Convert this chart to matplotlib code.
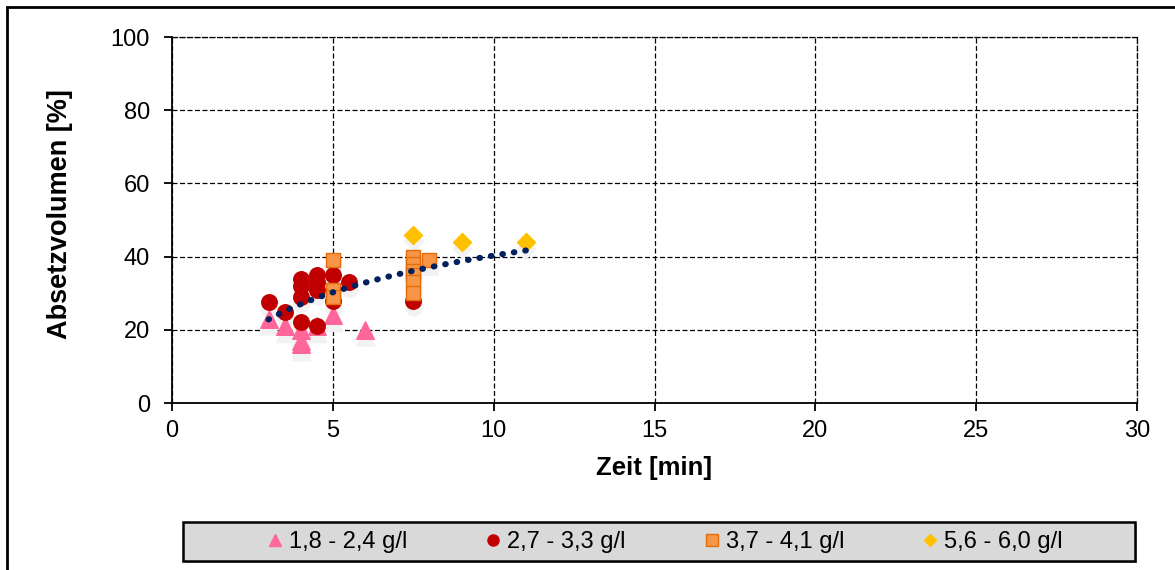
import numpy as np
import matplotlib
matplotlib.use("Agg")
import matplotlib.pyplot as plt
import matplotlib.transforms as mtransforms
from matplotlib.patches import Rectangle

plt.rcParams['font.family'] = ['Liberation Sans', 'DejaVu Sans']

# Messdaten: Zeit [min] / Absetzvolumen [%]
zeit_18 = [3, 3.5, 4, 4, 4, 4.5, 5, 6]
vol_18 = [23, 21, 20, 17, 16, 21, 24, 20]

zeit_27 = [3, 3.5, 4, 4, 4, 4, 4.5, 4.5, 4.5, 4.5, 5, 5, 5.5, 7.5]
vol_27 = [27.5, 25, 34, 32, 29, 22, 35, 33, 31, 21, 35, 28, 33, 28]

zeit_37 = [5, 5, 5, 7.5, 7.5, 7.5, 7.5, 7.5, 7.5, 8]
vol_37 = [39, 31, 29, 40, 38, 36, 35, 33, 30, 39]

zeit_56 = [7.5, 9, 11]
vol_56 = [46, 44, 44]

labels = ['1,8 - 2,4 g/l', '2,7 - 3,3 g/l', '3,7 - 4,1 g/l', '5,6 - 6,0 g/l']

# logarithmische Trendlinie (Koeffizienten)
trend_a = 14.5
trend_b = 6.9

fig = plt.figure(figsize=(11.75, 5.70), dpi=100)
ax = fig.add_axes([172 / 1175, 167 / 570, 965 / 1175, 366 / 570])

# Rahmen um das Diagramm
fig.patches.append(Rectangle((7 / 1175, -0.05), 1.2, 1 - 7 / 570 + 0.05,
                             transform=fig.transFigure, fill=False,
                             edgecolor='black', linewidth=2))

series = [
    (zeit_18, vol_18, '^', '#FF6699', '#FF6699', 160),
    (zeit_27, vol_27, 'o', '#C00000', '#C00000', 125),
    (zeit_37, vol_37, 's', '#F79646', '#E46C0A', 110),
    (zeit_56, vol_56, 'D', '#FFC000', '#FFC000', 85),
]

# leichter Schatten unter den Punkten
shadow = mtransforms.offset_copy(ax.transData, fig=fig, x=1, y=-7, units='dots')
for x, y, m, fc, ec, s in series:
    ax.scatter(x, y, marker=m, s=s * 1.3, color='#f2f2f2', edgecolors='none',
               transform=shadow, zorder=2)

for (x, y, m, fc, ec, s), lab in zip(series, labels):
    ax.scatter(x, y, marker=m, s=s, facecolor=fc, edgecolors=ec,
               linewidths=1, label=lab, zorder=3)

all_x = np.array(zeit_18 + zeit_27 + zeit_37 + zeit_56, dtype=float)
xt = np.linspace(all_x.min(), all_x.max(), 200)
ax.plot(xt, trend_a * np.log(xt) + trend_b, color='#002060',
        linestyle=(0, (0.1, 1.8)), linewidth=4.4, dash_capstyle='round', zorder=4)

ax.set_xlim(0, 30)
ax.set_ylim(0, 100)
ax.set_xticks(range(0, 31, 5))
ax.set_yticks(range(0, 101, 20))
ax.grid(True, color='black', linestyle=(0, (4, 2)), linewidth=0.9)
ax.set_axisbelow(True)
for sp in ['top', 'right']:
    ax.spines[sp].set_linestyle((0, (4, 2)))
    ax.spines[sp].set_linewidth(0.9)
for sp in ['left', 'bottom']:
    ax.spines[sp].set_linewidth(1.3)
ax.tick_params(direction='out', length=6, width=1.3, labelsize=17)
ax.tick_params(axis='x', pad=6)
ax.tick_params(axis='y', pad=10)

ax.set_xlabel('Zeit [min]', fontsize=18.5, fontweight='bold', labelpad=10)
ax.set_ylabel('Absetzvolumen [%]', fontsize=19.5, fontweight='bold', labelpad=27)
ax.yaxis.label.set_y(0.515)

# Legende unten mit grauem Kasten
box_shadow = Rectangle((185 / 1175, 7 / 570), 952 / 1175, 39 / 570,
                       transform=fig.transFigure, facecolor='#a6a6a6',
                       edgecolor='none', zorder=0)
box = Rectangle((183 / 1175, 9 / 570), 952 / 1175, 39 / 570,
                transform=fig.transFigure, facecolor='#d9d9d9',
                edgecolor='black', linewidth=1.8, zorder=1)
fig.patches.extend([box_shadow, box])

leg_handles = [
    plt.Line2D([], [], marker='^', color='#FF6699', linestyle='none', markersize=9),
    plt.Line2D([], [], marker='o', markerfacecolor='#C00000', markeredgecolor='#C00000',
               linestyle='none', markersize=8),
    plt.Line2D([], [], marker='s', markerfacecolor='#F79646', markeredgecolor='#E46C0A',
               linestyle='none', markersize=9),
    plt.Line2D([], [], marker='D', color='#FFC000', linestyle='none', markersize=6),
]
leg = fig.legend(leg_handles, labels, ncol=4, loc='center',
                 bbox_to_anchor=(663 / 1175, 28 / 570),
                 fontsize=17, frameon=False, handletextpad=0.1,
                 handlelength=1.0, columnspacing=3.13, borderaxespad=0)

fig.savefig('out.png', dpi=100)
